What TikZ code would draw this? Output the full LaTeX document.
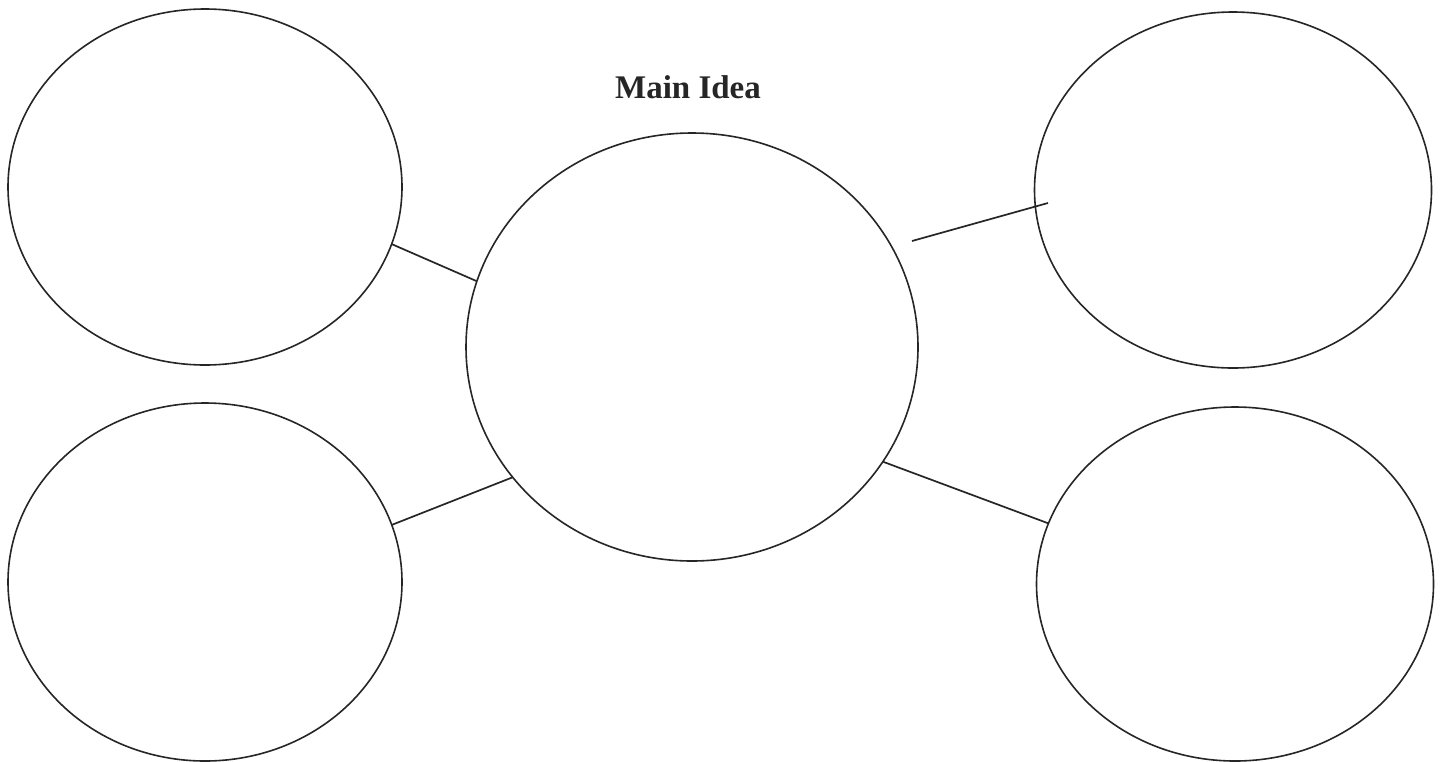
\documentclass[tikz,border=0pt]{standalone}
\usepackage{fontspec}
\setmainfont{Liberation Serif}
\usetikzlibrary{shapes.geometric}
\begin{document}
\begin{tikzpicture}[x=1pt,y=-1pt,
  bubble/.style={ellipse,draw=black!85,line width=1.6pt,inner sep=0pt,outer sep=0pt},
  link/.style={draw=black!85,line width=1.7pt},
  title/.style={font=\bfseries\fontsize{33}{36}\selectfont,text=black!85,inner sep=0pt,anchor=base}]
\useasboundingbox (0,0) rectangle (1440,761);
\fill[white] (0,0) rectangle (1440,761);

% central idea and its four details
\node[bubble,minimum width=452pt,minimum height=428pt] (c)  at (692,347) {};
\node[bubble,minimum width=394pt,minimum height=356pt] (tl) at (205,187) {};
\node[bubble,minimum width=394pt,minimum height=358pt] (bl) at (205,582) {};
\node[bubble,minimum width=397pt,minimum height=356pt] (tr) at (1233,190) {};
\node[bubble,minimum width=397pt,minimum height=354pt] (br) at (1235,584) {};

\node[title] (t) at (688,98) {Main Idea};

% connectors
\draw[link] (tl.-17.8) -- (c.163.8);
\draw[link] (bl.17.7) -- (c.216.4);
\draw[link] (c.-31.05) -- (br.162.5);
\coordinate (r1) at (912,241);
\coordinate (r2) at (1048,203);
\draw[link] (r1) -- (r2);
\end{tikzpicture}
\end{document}
